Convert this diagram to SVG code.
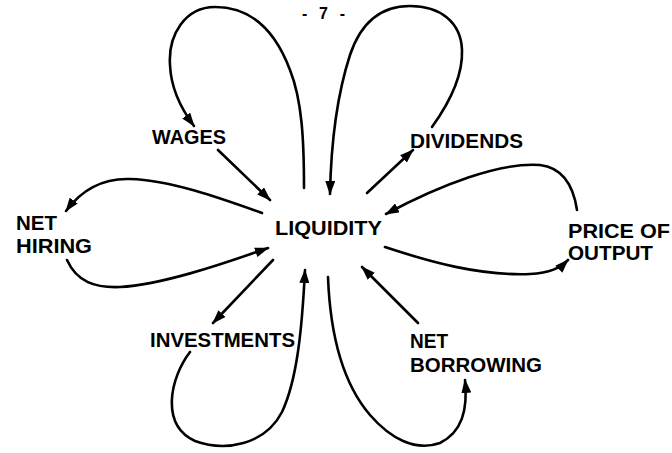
<svg xmlns="http://www.w3.org/2000/svg" width="672" height="453" viewBox="0 0 672 453">
<defs>
<marker id="ah" markerUnits="userSpaceOnUse" markerWidth="14" markerHeight="10" refX="13" refY="5" orient="auto">
<path d="M0,0 L14,5 L0,10 z" fill="#000"/>
</marker>
<style>
.lbl{font-family:"Liberation Sans",Arial,sans-serif;font-weight:bold;font-size:20.5px;fill:#000}
.pg{font-family:"Liberation Sans",Arial,sans-serif;font-weight:bold;font-size:16px;fill:#000}
.c{fill:none;stroke:#000;stroke-width:2.6;stroke-linecap:round;marker-end:url(#ah)}
</style>
</defs>
<rect width="672" height="453" fill="#fff"/>
<text class="pg" x="302" y="19" textLength="43" lengthAdjust="spacing">- 7 -</text>
<g id="liquidity"><text class="lbl" x="275" y="235" textLength="107" lengthAdjust="spacingAndGlyphs">LIQUIDITY</text></g>
<g id="wages"><text class="lbl" x="152" y="144" textLength="74" lengthAdjust="spacingAndGlyphs">WAGES</text></g>
<g id="dividends"><text class="lbl" x="410" y="148" textLength="113" lengthAdjust="spacingAndGlyphs">DIVIDENDS</text></g>
<g id="net-hiring"><text class="lbl" x="16" y="230" textLength="41" lengthAdjust="spacingAndGlyphs">NET</text><text class="lbl" x="16" y="253" textLength="76" lengthAdjust="spacingAndGlyphs">HIRING</text></g>
<g id="price-of-output"><text class="lbl" x="568" y="238" textLength="102" lengthAdjust="spacingAndGlyphs">PRICE OF</text><text class="lbl" x="568" y="260" textLength="85" lengthAdjust="spacingAndGlyphs">OUTPUT</text></g>
<g id="investments"><text class="lbl" x="150" y="347" textLength="145" lengthAdjust="spacingAndGlyphs">INVESTMENTS</text></g>
<g id="net-borrowing"><text class="lbl" x="410" y="348" textLength="38" lengthAdjust="spacingAndGlyphs">NET</text><text class="lbl" x="410" y="372" textLength="132" lengthAdjust="spacingAndGlyphs">BORROWING</text></g>
<g id="connectors">
<path class="c" d="M304,188 C304,140 302,100 290,70 C275,30 250,7 215,7 C185,7 168,35 170,65 C171,90 182,110 194,126"/>
<path class="c" d="M432,127 C450,102 463,75 462,50 C461,22 440,6 410,6 C378,6 360,25 350,55 C337,95 331,145 330,194"/>
<path class="c" d="M218,150 L270,200"/>
<path class="c" d="M367,193 L413,150"/>
<path class="c" d="M262,213 C220,198 170,180 130,179 C100,178 80,192 66,211"/>
<path class="c" d="M67,260 C77,282 95,288 120,287 C160,285 220,265 268,248"/>
<path class="c" d="M273,260 L213,323"/>
<path class="c" d="M190,352 C170,378 160,425 195,441 C225,452 265,445 282,412 C297,380 302,330 305,270"/>
<path class="c" d="M328,277 C330,330 340,380 370,415 C390,438 415,452 440,443 C462,432 468,410 465,380"/>
<path class="c" d="M418,323 L362,267"/>
<path class="c" d="M577,210 C574,190 565,168 540,165 C500,162 440,185 386,214"/>
<path class="c" d="M385,247 C430,262 480,276 530,274 C550,273 560,268 568,260"/>
</g>
</svg>
